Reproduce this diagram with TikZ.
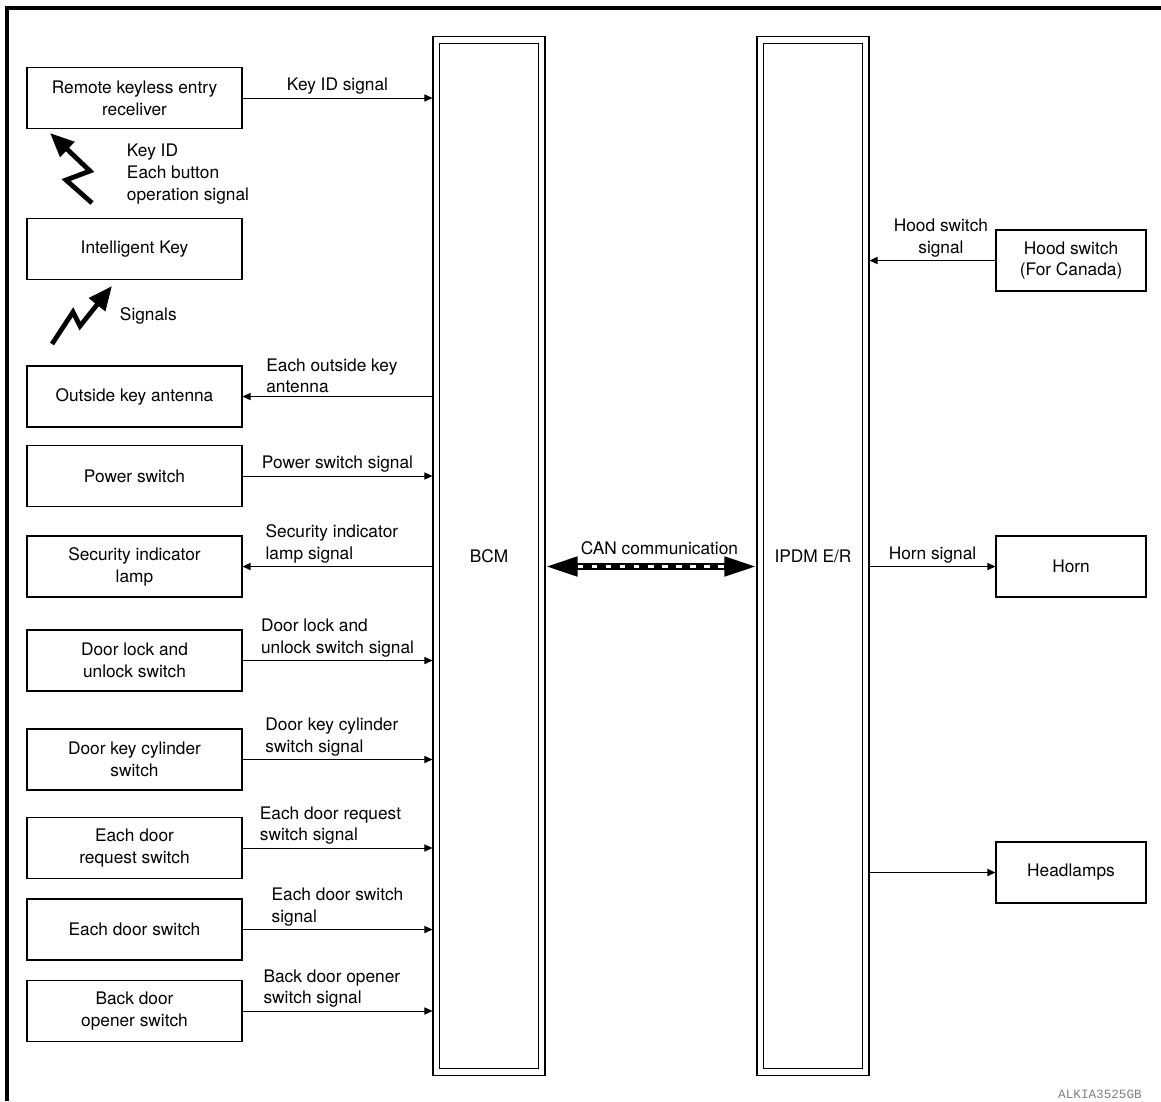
\documentclass[tikz,border=0pt]{standalone}
\usepackage{fontspec}
\setmainfont{TeX Gyre Heros}
\setmonofont{Liberation Mono}
\usetikzlibrary{arrows.meta}

\begin{document}
\begin{tikzpicture}[x=0.025cm,y=-0.025cm,
        font=\fontsize{12.3}{15.6}\selectfont,
        unit/.style={draw,line width=0.8pt,minimum width=5.375cm,minimum height=1.525cm,align=center,inner sep=0pt},
        load/.style={unit,minimum width=3.75cm},
        ecu/.style={draw,line width=0.8pt,minimum width=2.8cm,minimum height=25.95cm,inner sep=0pt},
        sig/.style={-{Triangle[length=2mm,width=1.8mm]},line width=0.7pt},
        lbl/.style={above,align=left,inner sep=2pt},
        zig/.style={line width=3.4pt,-{Triangle[length=6mm,width=5mm]}},
        can/.style={line width=4.5pt,{Triangle[length=8mm,width=4.6mm]}-{Triangle[length=8mm,width=4.6mm]}},
        canmid/.style={white,line width=2pt,dash pattern=on 4pt off 6pt}]
                \useasboundingbox (0,0) rectangle (1161,1101);
                \draw [line width=3pt] (7,1101) -- (7,8) -- (1161,8);
                % control units
                \node [ecu] (bcm) at (489,556) {BCM};
                \node [ecu] (ipdm) at (813,556) {IPDM E/R};
                \draw [line width=0.8pt] ([shift={(7,7)}]bcm.north west) rectangle ([shift={(-7,-7)}]bcm.south east);
                \draw [line width=0.8pt] ([shift={(7,7)}]ipdm.north west) rectangle ([shift={(-7,-7)}]ipdm.south east);
                % left side
                \node [unit] (rke) at (134.5,98) {Remote keyless entry\\receliver};
                \node [unit] (ikey) at (134.5,249) {Intelligent Key};
                \node [unit] (oka) at (134.5,396.5) {Outside key antenna};
                \node [unit] (psw) at (134.5,476) {Power switch};
                \node [unit] (sil) at (134.5,566.5) {Security indicator\\lamp};
                \node [unit] (dlu) at (134.5,660.5) {Door lock and\\unlock switch};
                \node [unit] (dkc) at (134.5,759.5) {Door key cylinder\\switch};
                \node [unit] (edr) at (134.5,848) {Each door\\request switch};
                \node [unit] (eds) at (134.5,929.5) {Each door switch};
                \node [unit] (bdo) at (134.5,1011) {Back door\\opener switch};
                % right side
                \node [load] (hood) at (1071,260.5) {Hood switch\\(For Canada)};
                \node [load] (horn) at (1071,566.5) {Horn};
                \node [load] (head) at (1071,872.5) {Headlamps};
                % radio signals
                \draw [zig] (92,203) -- (66,180) -- (90,171) -- (50,133);
                \node [anchor=west, align=left] (keyid) at (122,174) {Key ID\\Each button\\operation signal};
                \draw [zig] (52,344) -- (73,312) -- (80,326) -- (112,286);
                \node [anchor=west] (sigs) at (115,316) {Signals};
                % wires to BCM
                \draw [sig] (rke.east) -- node [lbl] {Key ID signal} (rke.east -| bcm.west);
                \draw [sig] (oka.east -| bcm.west) -- node [lbl, xshift=-4] {Each outside key\\antenna} (oka.east);
                \draw [sig] (psw.east) -- node [lbl] {Power switch signal} (psw.east -| bcm.west);
                \draw [sig] (sil.east -| bcm.west) -- node [lbl, xshift=-4] {Security indicator\\lamp signal} (sil.east);
                \draw [sig] (dlu.east) -- node [lbl] {Door lock and\\unlock switch signal} (dlu.east -| bcm.west);
                \draw [sig] (dkc.east) -- node [lbl, xshift=-4] {Door key cylinder\\switch signal} (dkc.east -| bcm.west);
                \draw [sig] (edr.east) -- node [lbl, xshift=-5] {Each door request\\switch signal} (edr.east -| bcm.west);
                \draw [sig] (eds.east) -- node [lbl] {Each door switch\\signal} (eds.east -| bcm.west);
                \draw [sig] (bdo.east) -- node [lbl, xshift=-4] {Back door opener\\switch signal} (bdo.east -| bcm.west);
                % IPDM side
                \draw [sig] (hood.west) -- node [above, align=center, inner sep=2pt, xshift=6] {Hood switch\\signal} (hood.west -| ipdm.east);
                \draw [sig] (horn.west -| ipdm.east) -- node [above, inner sep=2pt] {Horn signal} (horn.west);
                \draw [sig] (head.west -| ipdm.east) -- (head.west);
                % CAN line
                \coordinate (canl) at (bcm.east |- horn);
                \coordinate (canr) at (ipdm.west |- horn);
                \draw [can] (canl) -- node [above=3pt, xshift=6] {CAN communication} (canr);
                \draw [canmid] ([xshift=8mm]canl) -- ([xshift=-8mm]canr);
                \node [font=\ttfamily\fontsize{9}{10}\selectfont, text=gray] (code) at (1100,1094) {ALKIA3525GB};
            \end{tikzpicture}
\end{document}
